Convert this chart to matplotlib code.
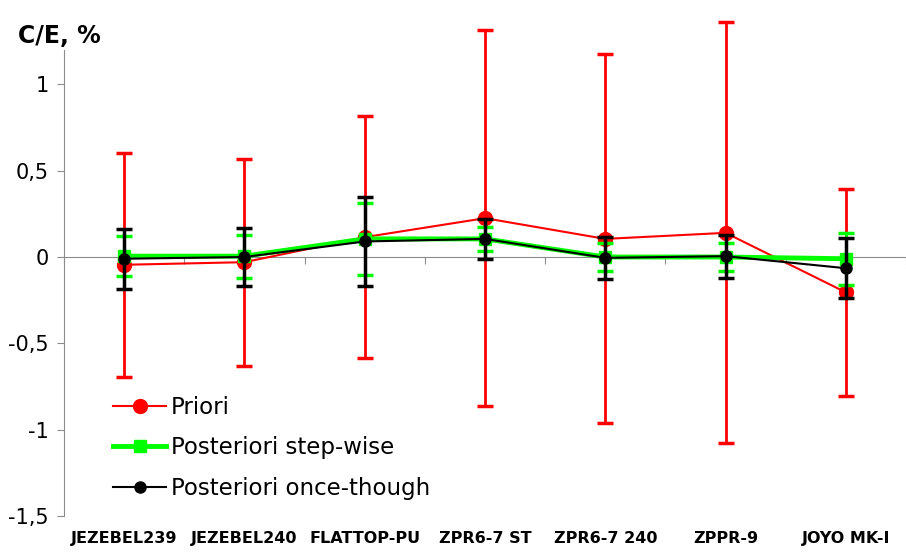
import matplotlib as mpl
import matplotlib.pyplot as plt
import matplotlib.transforms as mtransforms
from matplotlib.lines import Line2D
import numpy as np

# Data
cases = ['JEZEBEL239', 'JEZEBEL240', 'FLATTOP-PU', 'ZPR6-7 ST',
         'ZPR6-7 240', 'ZPPR-9', 'JOYO MK-I']

priori = [-0.045, -0.03, 0.115, 0.225, 0.105, 0.14, -0.205]
priori_err = [0.65, 0.60, 0.70, 1.09, 1.07, 1.22, 0.60]

step_wise = [0.005, 0.005, 0.105, 0.105, 0.0, 0.0, -0.01]
step_wise_err = [0.115, 0.125, 0.21, 0.07, 0.08, 0.08, 0.15]

once_through = [-0.01, 0.0, 0.09, 0.105, -0.005, 0.005, -0.065]
once_through_err = [0.175, 0.17, 0.26, 0.115, 0.12, 0.125, 0.175]

y_ticks = [1, 0.5, 0, -0.5, -1, -1.5]
y_labels = ['1', '0,5', '0', '-0,5', '-1', '-1,5']

# General plot parameters
mpl.rcParams['font.family'] = ['DejaVu Sans']

fig = plt.figure(figsize=(9.06, 5.53), dpi=100)
ax = fig.add_axes([0.0706, 0.0673, 0.9294, 0.9047])

x = np.arange(len(cases))
gray = '#8c8c8c'

ax.errorbar(x, priori, yerr=priori_err, color='#ff0000', lw=1.5,
            marker='o', ms=10, elinewidth=2, capsize=6, capthick=2.5,
            zorder=3)
ax.errorbar(x, step_wise, yerr=step_wise_err, color='#00ff00', lw=3.5,
            marker='s', ms=9, elinewidth=2, capsize=6, capthick=2.5,
            zorder=4)
ax.errorbar(x, once_through, yerr=once_through_err, color='black', lw=1.5,
            marker='o', ms=8, elinewidth=2.5, capsize=6, capthick=2.5,
            zorder=5)

ax.set_xlim(-0.5, 6.46)
ax.set_ylim(-1.5, 1.4)

# spines: left axis and a horizontal axis crossing at zero
for s in ['top', 'right']:
    ax.spines[s].set_visible(False)
ax.spines['left'].set_color(gray)
ax.spines['left'].set_bounds(-1.5, 1.2)
ax.spines['bottom'].set_color(gray)
ax.spines['bottom'].set_position(('data', 0))
ax.spines['bottom'].set_zorder(1)

ax.set_yticks(y_ticks)
ax.set_yticklabels(y_labels, fontsize=15)
ax.tick_params(axis='y', length=5, color=gray, pad=6)

ax.set_xticks(np.arange(-0.5, 7, 1))
ax.set_xticklabels([])
ax.tick_params(axis='x', length=5, color=gray, direction='out')

# category labels at the bottom
trans = mtransforms.blended_transform_factory(ax.transData, fig.transFigure)
for xi, name in zip(x, cases):
    ax.text(xi, 0.013, name, transform=trans, ha='center', va='bottom',
            fontsize=11.5, fontweight='bold')

fig.text(0.02, 0.935, 'C/E, %', fontsize=17, fontweight='bold',
         ha='left', va='center')

handles = [
    Line2D([], [], color='#ff0000', lw=1.5, marker='o', ms=10),
    Line2D([], [], color='#00ff00', lw=3.5, marker='s', ms=9),
    Line2D([], [], color='black', lw=1.5, marker='o', ms=8),
]
labels = ['Priori', 'Posteriori step-wise', 'Posteriori once-though']
ax.legend(handles, labels, loc='upper left', bbox_to_anchor=(0.115, 0.3),
          bbox_transform=fig.transFigure, frameon=False, fontsize=16.5,
          handlelength=2.3, handletextpad=0.2, labelspacing=0.75,
          borderaxespad=0)

fig.savefig('out.png', dpi=100)
